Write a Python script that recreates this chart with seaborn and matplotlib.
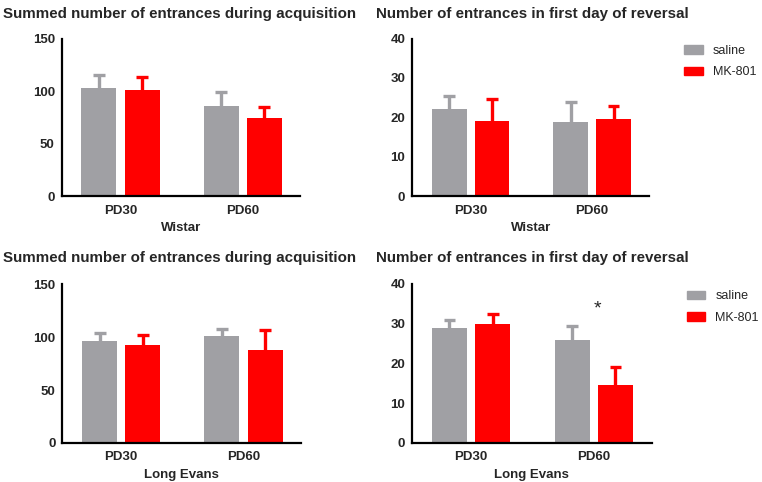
import matplotlib
matplotlib.use("Agg")
import matplotlib.pyplot as plt
import seaborn as sns
import pandas as pd
from matplotlib.patches import Patch

sns.set_style("white")
plt.rcParams['font.family'] = ['Liberation Sans', 'DejaVu Sans']

# values (mean, upward error)
ages = ["PD30", "PD60"]
treatments = ["saline", "MK-801"]
colors = {"saline": "#a0a0a4", "MK-801": "#ff0000"}

wistar_acq_saline = [103, 86]
wistar_acq_saline_err = [12, 13]
wistar_acq_mk = [101.5, 74]
wistar_acq_mk_err = [12, 10.5]

wistar_rev_saline = [22, 18.7]
wistar_rev_saline_err = [3.5, 5.3]
wistar_rev_mk = [19, 19.5]
wistar_rev_mk_err = [5.7, 3.5]

le_acq_saline = [96, 101.5]
le_acq_saline_err = [8, 6]
le_acq_mk = [93, 88]
le_acq_mk_err = [9, 18.5]

le_rev_saline = [29, 26]
le_rev_saline_err = [2, 3.5]
le_rev_mk = [29.8, 14.5]
le_rev_mk_err = [2.7, 4.5]

title_acq = "Summed number of entrances during acquisition"
title_rev = "Number of entrances in first day of reversal"


def panel(ax, saline, saline_err, mk, mk_err, ymax, ystep, xlabel):
    df = pd.DataFrame({
        "age": ages * 2,
        "treatment": ["saline"] * 2 + ["MK-801"] * 2,
        "value": saline + mk,
    })
    sns.barplot(data=df, x="age", y="value", hue="treatment", order=ages,
                hue_order=treatments, palette=colors, width=0.706, gap=0.19,
                saturation=1, linewidth=0, legend=False, ax=ax)
    # one-sided error bars (stem + top cap) in the bar colour, behind the bars
    for cont, errs, t in zip(ax.containers, [saline_err, mk_err], treatments):
        for bar, e in zip(cont, errs):
            x = bar.get_x() + bar.get_width() / 2
            h = bar.get_height()
            half = bar.get_width() * 0.17
            ax.vlines(x, h, h + e, color=colors[t], linewidth=2.4, zorder=0.5)
            ax.hlines(h + e, x - half, x + half, color=colors[t], linewidth=2.4, zorder=0.5)
    ax.set_xlim(-0.48, 1.47)
    ax.set_ylim(0, ymax)
    ax.set_yticks(range(0, ymax + 1, ystep))
    ax.set_xlabel(xlabel, fontsize=9.5, fontweight="bold", labelpad=4)
    ax.set_ylabel("")
    sns.despine(ax=ax)
    for s in ["left", "bottom"]:
        ax.spines[s].set_linewidth(1.6)
        ax.spines[s].set_color("black")
    ax.tick_params(axis="y", length=4, width=1.4, labelsize=9.5, pad=1)
    ax.tick_params(axis="x", length=0, labelsize=9.5, pad=6)
    for lab in ax.get_xticklabels() + ax.get_yticklabels():
        lab.set_fontweight("bold")


fig = plt.figure(figsize=(7.62, 4.82), dpi=100)
ax1 = fig.add_axes([0.081, 0.593, 0.313, 0.327])
ax2 = fig.add_axes([0.541, 0.593, 0.311, 0.327])
ax3 = fig.add_axes([0.082, 0.081, 0.313, 0.329])
ax4 = fig.add_axes([0.541, 0.081, 0.314, 0.330])

panel(ax1, wistar_acq_saline, wistar_acq_saline_err, wistar_acq_mk, wistar_acq_mk_err, 150, 50, "Wistar")
panel(ax2, wistar_rev_saline, wistar_rev_saline_err, wistar_rev_mk, wistar_rev_mk_err, 40, 10, "Wistar")
panel(ax3, le_acq_saline, le_acq_saline_err, le_acq_mk, le_acq_mk_err, 150, 50, "Long Evans")
panel(ax4, le_rev_saline, le_rev_saline_err, le_rev_mk, le_rev_mk_err, 40, 10, "Long Evans")

ax4.text(1.03, 33.6, "*", ha="center", va="center", fontsize=14)

fig.text(0.004, 0.971, title_acq, fontsize=10.9, fontweight="bold", va="center")
fig.text(0.494, 0.971, title_rev, fontsize=10.9, fontweight="bold", va="center")
fig.text(0.004, 0.465, title_acq, fontsize=10.9, fontweight="bold", va="center")
fig.text(0.494, 0.465, title_rev, fontsize=10.9, fontweight="bold", va="center")

handles = [Patch(color=colors[t], label=t) for t in treatments]
for ax in (ax2, ax4):
    ax.legend(handles=handles, loc="upper left", bbox_to_anchor=(1.1, 1.03),
              frameon=False, fontsize=9, handlelength=1.5, handleheight=0.7,
              handletextpad=0.8, labelspacing=0.75)

fig.savefig("out.png", dpi=100)
